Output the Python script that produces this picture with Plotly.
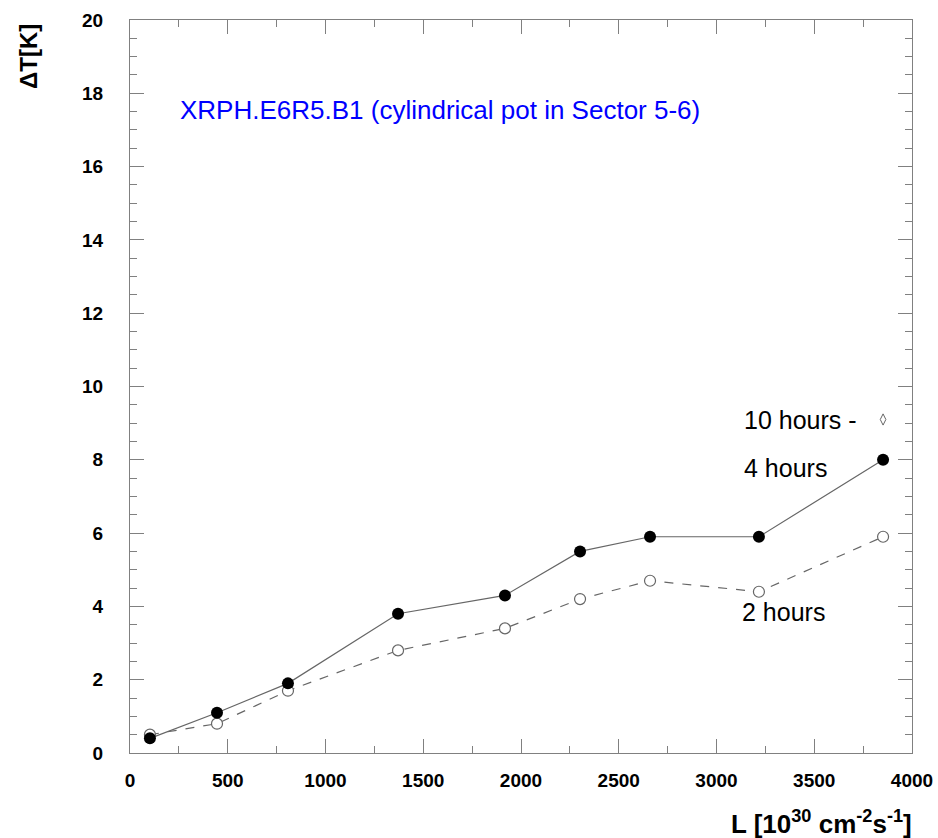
import plotly.graph_objects as go

lumi = [102, 445, 808, 1371, 1918, 2302, 2660, 3217, 3852]
dt_4h = [0.4, 1.1, 1.9, 3.8, 4.3, 5.5, 5.9, 5.9, 8.0]
dt_2h = [0.5, 0.8, 1.7, 2.8, 3.4, 4.2, 4.7, 4.4, 5.9]
dt_10h_x = [3852]
dt_10h = [9.1]

title_text = "XRPH.E6R5.B1 (cylindrical pot in Sector 5-6)"

fig = go.Figure()
fig.add_trace(go.Scatter(x=lumi, y=dt_2h, mode="lines+markers",
                         line=dict(color="#666666", width=1.2, dash="dash"),
                         marker=dict(symbol="circle", size=11, color="white",
                                     line=dict(color="#666666", width=1.2)),
                         showlegend=False))
fig.add_trace(go.Scatter(x=lumi, y=dt_4h, mode="lines+markers",
                         line=dict(color="#666666", width=1.2),
                         marker=dict(symbol="circle", size=12, color="black"),
                         showlegend=False))
fig.add_trace(go.Scatter(x=dt_10h_x, y=dt_10h, mode="markers",
                         marker=dict(symbol="diamond-tall-open", size=8, color="#666666",
                                     line=dict(width=1)),
                         showlegend=False))

font_main = "Liberation Sans, Arial, Helvetica, sans-serif"

fig.add_annotation(x=245, y=17.55, xref="x", yref="y", text=title_text,
                   showarrow=False, xanchor="left", yanchor="middle",
                   font=dict(family=font_main, size=26, color="#0000ff"))
fig.add_annotation(x=3130, y=9.09, xref="x", yref="y", text="10 hours -",
                   showarrow=False, xanchor="left", yanchor="middle",
                   font=dict(family=font_main, size=25, color="black"))
fig.add_annotation(x=3130, y=7.78, xref="x", yref="y", text="4 hours",
                   showarrow=False, xanchor="left", yanchor="middle",
                   font=dict(family=font_main, size=25, color="black"))
fig.add_annotation(x=3120, y=3.85, xref="x", yref="y", text="2 hours",
                   showarrow=False, xanchor="left", yanchor="middle",
                   font=dict(family=font_main, size=25, color="black"))

# axis titles
fig.add_annotation(x=(28 - 130) / 782, y=(753 - 57) / 733, xref="paper", yref="paper",
                   text="<b>ΔT[K]</b>",
                   showarrow=False, textangle=-90, xanchor="center", yanchor="middle",
                   font=dict(family=font_main, size=24, color="black"))
fig.add_annotation(x=(914 - 130) / 782, y=(753 - 804) / 733, xref="paper", yref="paper",
                   text="<b>L [10<sup>30</sup> cm<sup>-2</sup>s<sup>-1</sup>]</b>",
                   showarrow=False, xanchor="right", yanchor="top",
                   font=dict(family=font_main, size=26, color="black"))

axis_common = dict(showgrid=False, zeroline=False, showline=True, linecolor="#808080",
                   linewidth=1, mirror="ticks", ticks="inside", tickcolor="#808080",
                   tickwidth=1, automargin=False,
                   tickfont=dict(family=font_main, size=19, color="black", weight="bold"))

fig.update_xaxes(range=[0, 4000], dtick=500, tick0=0, ticklen=14, ticklabelstandoff=10,
                 minor=dict(dtick=250, ticks="inside", ticklen=7, tickcolor="#808080", showgrid=False),
                 **axis_common)
fig.update_yaxes(range=[0, 20], dtick=2, tick0=0, ticklen=14, ticklabelstandoff=22,
                 minor=dict(dtick=0.5, ticks="inside", ticklen=7, tickcolor="#808080", showgrid=False),
                 **axis_common)

fig.update_layout(width=938, height=838, plot_bgcolor="white", paper_bgcolor="white",
                  margin=dict(l=130, r=26, t=20, b=85, autoexpand=False), showlegend=False)

fig.write_html("out.html", config={"displayModeBar": False},
               post_script="document.body.style.margin='0';document.body.style.overflow='hidden';")
